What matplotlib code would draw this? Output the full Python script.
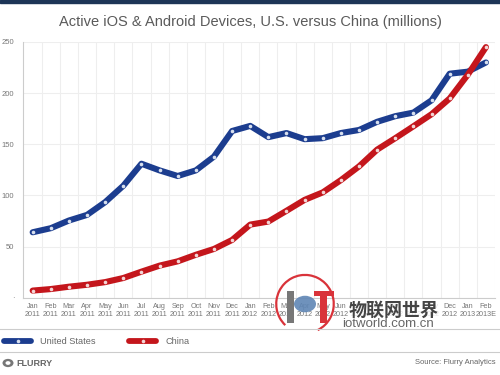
import numpy as np
import matplotlib
matplotlib.use('Agg')
import matplotlib.pyplot as plt
from matplotlib.patches import Rectangle, Circle, Arc

plt.rcParams['font.family'] = ['Liberation Sans', 'Noto Sans CJK SC', 'DejaVu Sans']

months = ['Jan\n2011', 'Feb\n2011', 'Mar\n2011', 'Apr\n2011', 'May\n2011', 'Jun\n2011',
          'Jul\n2011', 'Aug\n2011', 'Sep\n2011', 'Oct\n2011', 'Nov\n2011', 'Dec\n2011',
          'Jan\n2012', 'Feb\n2012', 'Mar\n2012', 'Apr\n2012', 'May\n2012', 'Jun\n2012',
          'Jul\n2012', 'Aug\n2012', 'Sep\n2012', 'Oct\n2012', 'Nov\n2012', 'Dec\n2012',
          'Jan\n2013', 'Feb\n2013E']
us = [64, 68, 75.5, 81, 93.5, 109.5, 131, 124.5, 119, 124.5, 138, 163, 168,
      157, 161, 155, 156, 161, 164, 172, 177.5, 181, 193, 219, 221, 230]
china = [7, 8.5, 10.8, 12.7, 15.3, 19.3, 25.5, 31.4, 35.6, 42, 47.7, 56.5, 71.5,
         74.5, 85, 95.7, 103, 115, 128.4, 144.8, 156, 167.6, 179.4, 194.8, 218, 245]
yticks = [0, 50, 100, 150, 200, 250]

blue = '#1c3d8f'
red = '#c4161c'

fig = plt.figure(figsize=(5, 3.75), dpi=100)
ax = fig.add_axes([0.0454, 0.206, 0.9446, 0.682])

x = np.arange(len(months))
ax.plot(x, us, color=blue, lw=4.4, solid_joinstyle='round', solid_capstyle='round',
        marker='o', ms=2.6, mfc='#d8e0ee', mec='none', zorder=3)
ax.plot(x, china, color=red, lw=4.4, solid_joinstyle='round', solid_capstyle='round',
        marker='o', ms=2.6, mfc='#f2d6d6', mec='none', zorder=3)

ax.set_xlim(-0.55, len(months) - 0.5)
ax.set_ylim(0, 250)
ax.set_yticks(yticks)
ax.set_yticklabels(['·'] + [str(v) for v in yticks[1:]])
ax.set_xticks(x)
ax.set_xticklabels(months, fontsize=5.2, color='#777777', linespacing=1.1)
ax.set_xticks(np.arange(len(months)) + 0.5, minor=True)
ax.tick_params(axis='y', labelsize=5.5, labelcolor='#777777', length=0, pad=6)
ax.tick_params(axis='x', which='both', length=0, pad=4)
ax.grid(axis='y', color='#eeeeee', lw=0.8)
ax.grid(axis='x', which='minor', color='#eeeeee', lw=0.8)
ax.grid(axis='x', which='major', visible=False)
for s in ['top', 'right']:
    ax.spines[s].set_visible(False)
ax.spines['left'].set_color('#cccccc')
ax.spines['bottom'].set_color('#cccccc')
ax.spines['left'].set_linewidth(0.8)
ax.spines['bottom'].set_linewidth(0.8)

### header / footer
fig.patches.append(Rectangle((0, 0.992), 1, 0.008, transform=fig.transFigure,
                             color='#1d3557', zorder=0))
fig.text(0.5, 0.942, 'Active iOS & Android Devices, U.S. versus China (millions)',
         ha='center', va='center', fontsize=10.5, color='#5a5a5a')

for yy in [1 - 329 / 375, 1 - 352 / 375]:
    fig.add_artist(plt.Line2D([0, 1], [yy, yy], transform=fig.transFigure,
                              color='#cccccc', lw=0.8))

### legend
ly = 1 - 341 / 375
fig.add_artist(plt.Line2D([0.008, 0.062], [ly, ly], transform=fig.transFigure,
                          color=blue, lw=4.2, solid_capstyle='round'))
fig.add_artist(plt.Line2D([0.035], [ly], transform=fig.transFigure, marker='o',
                          ms=2.6, mfc='#d8e0ee', mec='none'))
fig.text(0.08, ly, 'United States', ha='left', va='center', fontsize=6.6, color='#666666')
fig.add_artist(plt.Line2D([0.258, 0.312], [ly, ly], transform=fig.transFigure,
                          color=red, lw=4.2, solid_capstyle='round'))
fig.add_artist(plt.Line2D([0.285], [ly], transform=fig.transFigure, marker='o',
                          ms=2.6, mfc='#f2d6d6', mec='none'))
fig.text(0.332, ly, 'China', ha='left', va='center', fontsize=6.6, color='#666666')

fy = 1 - 363 / 375
fig.add_artist(Circle((0.016, fy), 0.011, transform=fig.transFigure,
                      fc='#777777', ec='none'))
fig.add_artist(Circle((0.016, fy), 0.005, transform=fig.transFigure,
                      fc='white', ec='none'))
fig.text(0.032, fy, 'FLURRY', ha='left', va='center', fontsize=6.5,
         fontweight='bold', color='#666666')
fig.text(0.992, fy, 'Source: Flurry Analytics', ha='right', va='center',
         fontsize=5.5, color='#666666')

### watermark (logo drawn as shapes)
cx, cy = 0.61, 1 - 304 / 375
fig.add_artist(Arc((cx, cy), 0.115, 0.155, theta1=-70, theta2=235,
                   transform=fig.transFigure, color='#d9333a', lw=1.6))
fig.add_artist(Rectangle((cx - 0.036, cy - 0.05), 0.014, 0.085,
                         transform=fig.transFigure, fc='#777777', ec='none'))
fig.add_artist(Circle((cx, cy), 0.022, transform=fig.transFigure,
                      fc='#5f86b5', ec='none', alpha=0.9))
fig.add_artist(Rectangle((cx + 0.018, cy + 0.022), 0.04, 0.014,
                         transform=fig.transFigure, fc='#d9333a', ec='none'))
fig.add_artist(Rectangle((cx + 0.03, cy - 0.05), 0.014, 0.075,
                         transform=fig.transFigure, fc='#d9333a', ec='none'))
fig.text(0.788, 1 - 310 / 375, '物联网世界', ha='center', va='center', fontsize=13,
         fontweight='bold', color='#444444',
         family=['Noto Sans CJK SC', 'DejaVu Sans'],
         bbox=dict(fc='white', ec='none', alpha=0.8, pad=0.5))
fig.text(0.776, 1 - 324 / 375, 'iotworld.com.cn', ha='center', va='center',
         fontsize=9.5, color='#666666')

fig.savefig('out.png', dpi=100)
